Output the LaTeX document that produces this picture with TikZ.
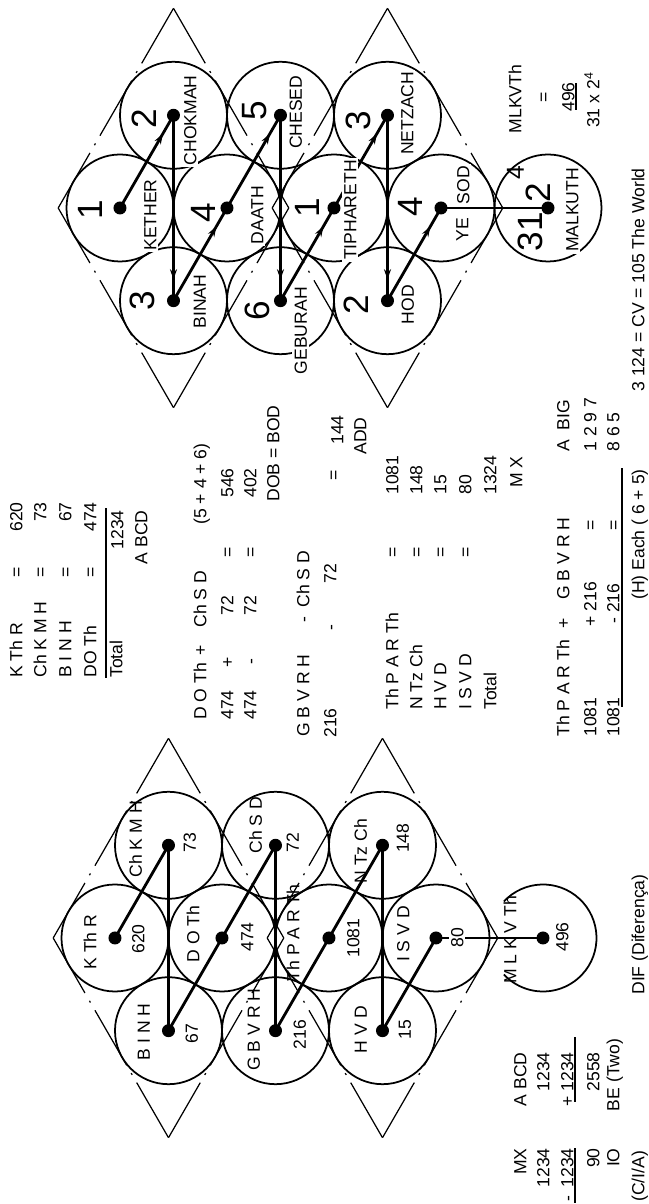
\documentclass[tikz,border=0pt]{standalone}
\usepackage{fontspec}
\setmainfont{Liberation Sans}
\usetikzlibrary{arrows.meta,decorations.markings}
\tikzset{
  sephira/.style={circle,draw,line width=1pt,minimum size=2.14cm,inner sep=0pt},
  channel/.style={line width=1.6pt},
  flow/.style={channel,postaction={decorate},
    decoration={markings,mark=at position -0.42cm with {\arrow{Stealth[length=6pt,width=4pt]}}}},
  veil/.style={line width=0.7pt,dash pattern=on 1.27cm off 0.18cm on 0.04cm off 0.18cm},
  txt/.style={font=\fontsize{10}{12}\selectfont,inner sep=0pt,text height=7.2pt,text depth=0pt},
  sefname/.style={txt,fill=white,inner sep=1pt},
  numeral/.style={font=\fontsize{20}{24}\selectfont,inner sep=0pt,text height=14.3pt,text depth=0pt},
  hrule/.style={line width=0.6pt}
}
\begin{document}
\begin{tikzpicture}[x=0.2mm,y=0.2mm,rotate=90,transform shape]
  \useasboundingbox (0,0) rectangle (1204,649);
  % Left tree: the Hebrew spellings with their values
  \begin{scope}[shift={(266,534)}]
    \node[sephira] (lketh) at (0,0) {};
    \node[sephira] (lchok) at (92.7,-53.5) {};
    \node[sephira] (lbina) at (-92.7,-53.5) {};
    \node[sephira] (ldaat) at (0,-107) {};
    \node[sephira] (lches) at (92.7,-160.5) {};
    \node[sephira] (lgebu) at (-92.7,-160.5) {};
    \node[sephira] (ltiph) at (0,-214) {};
    \node[sephira] (lnetz) at (92.7,-267.5) {};
    \node[sephira] (lhod) at (-92.7,-267.5) {};
    \node[sephira] (lyeso) at (0,-321) {};
    \coordinate (lmalk) at (0,-428);
    \coordinate (lT) at (0,61.8);
    \coordinate (lR1) at (199.7,-53.5);
    \coordinate (lL1) at (-199.7,-53.5);
    \coordinate (lR2) at (199.7,-267.5);
    \coordinate (lL2) at (-199.7,-267.5);
    \coordinate (lB) at (0,-382.8);
    \coordinate (lCB) at (0,-168.8);
    \coordinate (lCT) at (0,-152.2);
    \draw[line width=1pt] (lmalk) ++(47:53.5) arc[start angle=47,end angle=-227,radius=53.5];
    \draw[veil] (lT) -- (lR1);
    \draw[veil] (lT) -- (lL1);
    \draw[veil] (lR1) -- (lCB);
    \draw[veil] (lL1) -- (lCB);
    \draw[veil] (lR2) -- (lCT);
    \draw[veil] (lL2) -- (lCT);
    \draw[veil] (lB) -- (lR2);
    \draw[veil] (lB) -- (lL2);
    \draw[channel] (lketh.center) -- (lchok.center);
    \draw[channel] (lchok.center) -- (lbina.center);
    \draw[channel] (lbina.center) -- (ldaat.center);
    \draw[channel] (ldaat.center) -- (lches.center);
    \draw[channel] (lches.center) -- (lgebu.center);
    \draw[channel] (lgebu.center) -- (ltiph.center);
    \draw[channel] (ltiph.center) -- (lnetz.center);
    \draw[channel] (lnetz.center) -- (lhod.center);
    \draw[channel] (lhod.center) -- (lyeso.center);
    \draw[channel] (lyeso.center) -- (lmalk);
    \foreach \s in {lketh,lchok,lbina,ldaat,lches,lgebu,ltiph,lnetz,lhod,lyeso,lmalk}
      \fill (\s.center) circle[radius=6.5];
    \node[txt] at (-4,25) {K Th R};
    \node[txt] at (-1,-23) {620};
    \node[txt] at (98.7,-20.5) {Ch K M H};
    \node[txt] at (95.7,-74.5) {73};
    \node[txt] at (-93.7,-28.5) {B I N H};
    \node[txt] at (-95.7,-76.5) {67};
    \node[txt] at (4,-78) {D O Th};
    \node[txt] at (1,-132) {474};
    \node[txt] at (112.7,-140.5) {Ch S D};
    \node[txt] at (95.7,-177.5) {72};
    \node[txt] at (-91.7,-138.5) {G B V R H};
    \node[txt] at (-96.7,-184.5) {216};
    \node[txt] at (5,-178) {Th P A R Th};
    \node[txt] at (0,-238) {1081};
    \node[txt] at (86.7,-245.5) {N Tz Ch};
    \node[txt] at (99.7,-287.5) {148};
    \node[txt] at (-91.7,-245.5) {H V D};
    \node[txt] at (-91.7,-289.5) {15};
    \node[txt] at (4,-288) {I S V D};
    \node[sefname] at (0,-342) {80};
    \node[txt] at (-2,-395) {M L K V Th};
    \node[txt] at (1,-447) {496};
  \end{scope}
  % Right tree: the order of the letters, 1 to 6 and 1 to 4
  \begin{scope}[shift={(996,529)}]
    \node[sephira] (rketh) at (0,0) {};
    \node[sephira] (rchok) at (92.7,-53.5) {};
    \node[sephira] (rbina) at (-92.7,-53.5) {};
    \node[sephira] (rdaat) at (0,-107) {};
    \node[sephira] (rches) at (92.7,-160.5) {};
    \node[sephira] (rgebu) at (-92.7,-160.5) {};
    \node[sephira] (rtiph) at (0,-214) {};
    \node[sephira] (rnetz) at (92.7,-267.5) {};
    \node[sephira] (rhod) at (-92.7,-267.5) {};
    \node[sephira] (ryeso) at (0,-321) {};
    \node[sephira] (rmalk) at (0,-428) {};
    \coordinate (rT) at (0,61.8);
    \coordinate (rR1) at (199.7,-53.5);
    \coordinate (rL1) at (-199.7,-53.5);
    \coordinate (rR2) at (199.7,-267.5);
    \coordinate (rL2) at (-199.7,-267.5);
    \coordinate (rB) at (0,-382.8);
    \coordinate (rCB) at (0,-168.8);
    \coordinate (rCT) at (0,-152.2);
    \draw[veil] (rT) -- (rR1);
    \draw[veil] (rT) -- (rL1);
    \draw[veil] (rR1) -- (rCB);
    \draw[veil] (rL1) -- (rCB);
    \draw[veil] (rR2) -- (rCT);
    \draw[veil] (rL2) -- (rCT);
    \draw[veil] (rB) -- (rR2);
    \draw[veil] (rB) -- (rL2);
    \draw[flow] (rketh.center) -- (rchok.center);
    \draw[flow] (rchok.center) -- (rbina.center);
    \draw[flow] (rbina.center) -- (rdaat.center);
    \draw[flow] (rdaat.center) -- (rches.center);
    \draw[flow] (rches.center) -- (rgebu.center);
    \draw[flow] (rgebu.center) -- (rtiph.center);
    \draw[flow] (rtiph.center) -- (rnetz.center);
    \draw[flow] (rnetz.center) -- (rhod.center);
    \draw[flow] (rhod.center) -- (ryeso.center);
    \draw[channel] (ryeso.center) -- (rmalk.center);
    \foreach \s in {rketh,rchok,rbina,rdaat,rches,rgebu,rtiph,rnetz,rhod,ryeso,rmalk}
      \fill (\s.center) circle[radius=6.5];
    \node[sefname] at (-7,-30) {KETHER};
    \node[numeral] at (-2,30) {1};
    \node[sefname] at (87.7,-70) {CHOKMAH};
    \node[numeral] at (89.7,-23.5) {2};
    \node[sefname] at (-93.7,-79.5) {BINAH};
    \node[numeral] at (-92.7,-21.5) {3};
    \node[sefname] at (-7,-137) {DAATH};
    \node[numeral] at (-5,-83) {4};
    \node[sefname] at (95.7,-175.5) {CHESED};
    \node[numeral] at (97.7,-133.5) {5};
    \node[sefname] at (-122.7,-180.5) {GEBURAH};
    \node[numeral] at (-102.7,-136.5) {6};
    \node[sefname] at (-2,-230) {TIPHARETH};
    \node[numeral] at (0,-187) {1};
    \node[sefname] at (94.7,-287) {NETZACH};
    \node[numeral] at (87.7,-237.5) {3};
    \node[sefname] at (-96.7,-287.5) {HOD};
    \node[numeral] at (-96.7,-235.5) {2};
    \node[sefname] at (-22,-342) {YE};
    \node[sefname] at (23,-343) {SOD};
    \node[numeral] at (1,-290) {4};
    \node[sefname] at (-2,-452) {MALKUTH};
    \node[numeral] at (-34,-410) {3};
    \node[numeral] at (-14,-410) {1};
    \node[numeral] at (15,-418) {2};
    \node[numeral,font=\fontsize{14}{16}\selectfont,text height=10pt] at (35,-395) {4};
  \end{scope}
  % Sums of the spellings
  \node[txt,anchor=west] at (526,633) {K Th R};
  \node[txt,anchor=west] at (526,609) {Ch K M H};
  \node[txt,anchor=west] at (526,584) {B I N H};
  \node[txt,anchor=west] at (526,559) {DO Th};
  \foreach \y in {633,609,584,559} \node[txt] at (632,\y) {=};
  \node[txt,anchor=east] at (702,633) {620};
  \node[txt,anchor=east] at (702,609) {73};
  \node[txt,anchor=east] at (702,584) {67};
  \node[txt,anchor=east] at (702,559) {474};
  \draw[hrule] (526,543) -- (696,543);
  \node[txt,anchor=west] at (526,533) {Total};
  \node[txt,anchor=east] at (694,532) {1234};
  \node[txt,anchor=east] at (694,508) {A BCD};
  \node[txt,anchor=west] at (484,449) {D O Th};
  \node[txt] at (554,449) {+};
  \node[txt,anchor=west] at (576,449) {Ch S D};
  \node[txt,anchor=west] at (679,449) {(5 + 4 + 6)};
  \node[txt,anchor=west] at (484,422) {474};
  \node[txt] at (542,422) {+};
  \node[txt] at (598,422) {72};
  \node[txt] at (652,422) {=};
  \node[txt,anchor=west] at (706,422) {546};
  \node[txt,anchor=west] at (484,399) {474};
  \node[txt] at (542,399) {-};
  \node[txt] at (598,399) {72};
  \node[txt] at (652,399) {=};
  \node[txt,anchor=west] at (706,399) {402};
  \node[txt,anchor=west] at (702,376) {DOB = BOD};
  \node[txt,anchor=west] at (467,346) {G B V R H};
  \node[txt] at (584,346) {-};
  \node[txt,anchor=west] at (596,346) {Ch S D};
  \node[txt,anchor=west] at (466,319) {216};
  \node[txt] at (576,319) {-};
  \node[txt] at (630,319) {72};
  \node[txt] at (729,316) {=};
  \node[txt,anchor=west] at (759,312) {144};
  \node[txt,anchor=west] at (749,289) {ADD};
  \node[txt,anchor=west] at (494,257) {Th P A R Th};
  \node[txt,anchor=west] at (494,233) {N Tz Ch};
  \node[txt,anchor=west] at (494,209) {H V D};
  \node[txt,anchor=west] at (494,184) {I S V D};
  \node[txt,anchor=west] at (494,159) {Total};
  \foreach \y in {257,233,209,184} \node[txt] at (652,\y) {=};
  \node[txt,anchor=west] at (709,257) {1081};
  \node[txt,anchor=west] at (709,233) {148};
  \node[txt,anchor=west] at (709,209) {15};
  \node[txt,anchor=west] at (709,184) {80};
  \node[txt,anchor=west] at (709,159) {1324};
  \node[txt] at (732,133) {M X};
  \node[txt,anchor=west] at (467,86) {Th P A R Th};
  \node[txt] at (581,86) {+};
  \node[txt,anchor=west] at (604,86) {G B V R H};
  \node[txt,anchor=west] at (752,86) {A\ \ BIG};
  \node[txt,anchor=west] at (467,59) {1081};
  \node[txt,anchor=west] at (577,59) {+ 216};
  \node[txt] at (679,59) {=};
  \node[txt,anchor=west] at (752,59) {1 2 9 7};
  \node[txt,anchor=west] at (467,36) {1081};
  \node[txt,anchor=west] at (580,36) {- 216};
  \node[txt] at (679,36) {=};
  \node[txt,anchor=west] at (752,36) {8 6 5};
  \draw[hrule] (497,27) -- (736,27);
  \node[txt,anchor=west] at (604,11) {(H) Each ( 6 + 5)};
  \node[txt,anchor=west] at (812,11) {3 124 = CV = 105 The World};
  \node[txt] at (1105,134) {MLKVTh};
  \node[txt] at (1107,106) {=};
  \node[txt] at (1107,81) {496};
  \draw[hrule] (1094,73) -- (1121,73);
  \node[txt] at (1104,56) {31 x 2\textsuperscript{4}};
  % Left margin sums
  \node[txt,anchor=east] at (56,129) {MX};
  \node[txt,anchor=east] at (56,106) {1234};
  \node[txt] at (5,82) {-};
  \node[txt,anchor=east] at (56,82) {1234};
  \draw[hrule] (1,74) -- (56,74);
  \node[txt,anchor=east] at (56,56) {90};
  \node[txt,anchor=east] at (56,36) {IO};
  \node[txt,anchor=west] at (2,11) {(C/I/A)};
  \node[txt,anchor=east] at (152,129) {A BCD};
  \node[txt,anchor=east] at (152,106) {1234};
  \node[txt,anchor=east] at (152,82) {+ 1234};
  \draw[hrule] (102,74) -- (167,74);
  \node[txt,anchor=east] at (152,56) {2558};
  \node[txt] at (129,36) {BE (Two)};
  \node[txt,anchor=west] at (209,11) {DIF (Diferença)};
\end{tikzpicture}
\end{document}
